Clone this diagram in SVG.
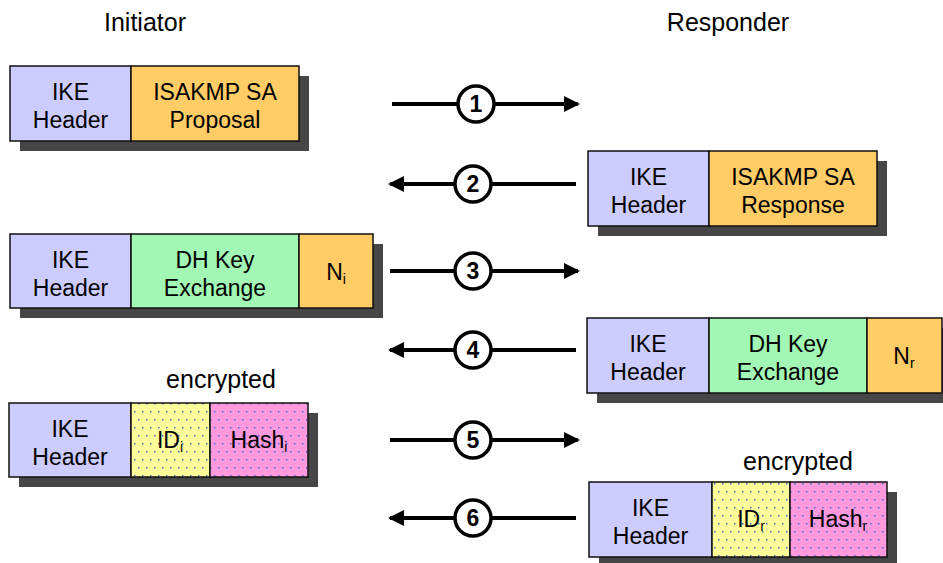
<svg xmlns="http://www.w3.org/2000/svg" width="943" height="563" viewBox="0 0 943 563">
<style>
text{font-family:"Liberation Sans",Arial,sans-serif;fill:#000}
.t{font-size:23px;text-anchor:middle}
.lbl{font-size:25px;text-anchor:middle}
.sub{font-size:14px}
.num{font-size:23px;font-weight:bold;text-anchor:middle}
.sh{fill:#464646}
.cell{stroke:#111;stroke-width:1.5}
.ike{fill:#ccccff}
.org{fill:#ffcc66}
.grn{fill:#a2f7b4}
.yel{fill:url(#dotY)}
.pnk{fill:url(#dotP)}
.ln{stroke:#000;stroke-width:4;fill:none}
.circ{fill:#fff;stroke:#000;stroke-width:3.5}
</style>
<defs>
<pattern id="dotY" width="8" height="16" patternUnits="userSpaceOnUse">
<rect width="8" height="16" fill="#ffff99"/>
<rect x="2" y="3" width="1.5" height="1.5" fill="#4a6ad0"/>
<rect x="6" y="11" width="1.5" height="1.5" fill="#4a6ad0"/>
</pattern>
<pattern id="dotP" width="8" height="16" patternUnits="userSpaceOnUse">
<rect width="8" height="16" fill="#ff99dd"/>
<rect x="2" y="3" width="1.5" height="1.5" fill="#4a6ad0"/>
<rect x="6" y="11" width="1.5" height="1.5" fill="#4a6ad0"/>
</pattern>
<marker id="ah" viewBox="0 0 16 16" refX="14" refY="8" markerWidth="16" markerHeight="16" markerUnits="userSpaceOnUse" orient="auto">
<path d="M0,0 L16,8 L0,16 Z" fill="#000"/>
</marker>
</defs>

<text class="lbl" x="145" y="31">Initiator</text>
<text class="lbl" x="728" y="31">Responder</text>

<g id="msg1">
<rect class="sh" x="20" y="76" width="289" height="75"/>
<rect class="cell ike" x="10" y="66" width="121" height="75"/>
<rect class="cell org" x="131" y="66" width="168" height="75"/>
<text class="t" x="70.5" y="100">IKE</text>
<text class="t" x="70.5" y="128">Header</text>
<text class="t" x="215" y="100">ISAKMP SA</text>
<text class="t" x="215" y="128">Proposal</text>
</g>

<g id="msg2">
<rect class="sh" x="598" y="161" width="289" height="75"/>
<rect class="cell ike" x="588" y="151" width="121" height="75"/>
<rect class="cell org" x="709" y="151" width="168" height="75"/>
<text class="t" x="648.5" y="185">IKE</text>
<text class="t" x="648.5" y="213">Header</text>
<text class="t" x="793" y="185">ISAKMP SA</text>
<text class="t" x="793" y="213">Response</text>
</g>

<g id="msg3">
<rect class="sh" x="20" y="244" width="363" height="74"/>
<rect class="cell ike" x="10" y="234" width="121" height="74"/>
<rect class="cell grn" x="131" y="234" width="168" height="74"/>
<rect class="cell org" x="299" y="234" width="74" height="74"/>
<text class="t" x="70.5" y="268">IKE</text>
<text class="t" x="70.5" y="296">Header</text>
<text class="t" x="215" y="268">DH Key</text>
<text class="t" x="215" y="296">Exchange</text>
<text class="t" x="336" y="280">N<tspan class="sub" dy="4">i</tspan></text>
</g>

<g id="msg4">
<rect class="sh" x="597" y="328" width="355" height="75"/>
<rect class="cell ike" x="587" y="318" width="122" height="75"/>
<rect class="cell grn" x="709" y="318" width="158" height="75"/>
<rect class="cell org" x="867" y="318" width="75" height="75"/>
<text class="t" x="648" y="352">IKE</text>
<text class="t" x="648" y="380">Header</text>
<text class="t" x="788" y="352">DH Key</text>
<text class="t" x="788" y="380">Exchange</text>
<text class="t" x="904" y="364">N<tspan class="sub" dy="4">r</tspan></text>
</g>

<g id="msg5">
<text class="lbl" x="221" y="388">encrypted</text>
<rect class="sh" x="19" y="413" width="299" height="74"/>
<rect class="cell ike" x="9" y="403" width="122" height="74"/>
<rect class="cell yel" x="131" y="403" width="79" height="74"/>
<rect class="cell pnk" x="210" y="403" width="98" height="74"/>
<text class="t" x="70" y="437">IKE</text>
<text class="t" x="70" y="465">Header</text>
<text class="t" x="170" y="448">ID<tspan class="sub" dy="4">i</tspan></text>
<text class="t" x="259" y="448">Hash<tspan class="sub" dy="4">i</tspan></text>
</g>

<g id="msg6">
<text class="lbl" x="798" y="470">encrypted</text>
<rect class="sh" x="599" y="492" width="298" height="71"/>
<rect class="cell ike" x="589" y="482" width="123" height="75"/>
<rect class="cell yel" x="712" y="482" width="78" height="75"/>
<rect class="cell pnk" x="790" y="482" width="97" height="75"/>
<text class="t" x="650.5" y="516">IKE</text>
<text class="t" x="650.5" y="544">Header</text>
<text class="t" x="751" y="527">ID<tspan class="sub" dy="4">r</tspan></text>
<text class="t" x="838" y="527">Hash<tspan class="sub" dy="4">r</tspan></text>
</g>

<g id="connectors">
<line class="ln" x1="392" y1="104" x2="578" y2="104" marker-end="url(#ah)"/>
<circle class="circ" cx="476" cy="104" r="18"/>
<text class="num" x="476" y="112">1</text>

<line class="ln" x1="576" y1="184" x2="390" y2="184" marker-end="url(#ah)"/>
<circle class="circ" cx="473" cy="184" r="18"/>
<text class="num" x="473" y="192">2</text>

<line class="ln" x1="390" y1="271" x2="578" y2="271" marker-end="url(#ah)"/>
<circle class="circ" cx="473" cy="271" r="18"/>
<text class="num" x="473" y="279">3</text>

<line class="ln" x1="576" y1="350" x2="390" y2="350" marker-end="url(#ah)"/>
<circle class="circ" cx="473" cy="350" r="18"/>
<text class="num" x="473" y="358">4</text>

<line class="ln" x1="390" y1="440" x2="578" y2="440" marker-end="url(#ah)"/>
<circle class="circ" cx="473" cy="440" r="18"/>
<text class="num" x="473" y="448">5</text>

<line class="ln" x1="576" y1="518" x2="390" y2="518" marker-end="url(#ah)"/>
<circle class="circ" cx="473" cy="518" r="18"/>
<text class="num" x="473" y="526">6</text>
</g>
</svg>
